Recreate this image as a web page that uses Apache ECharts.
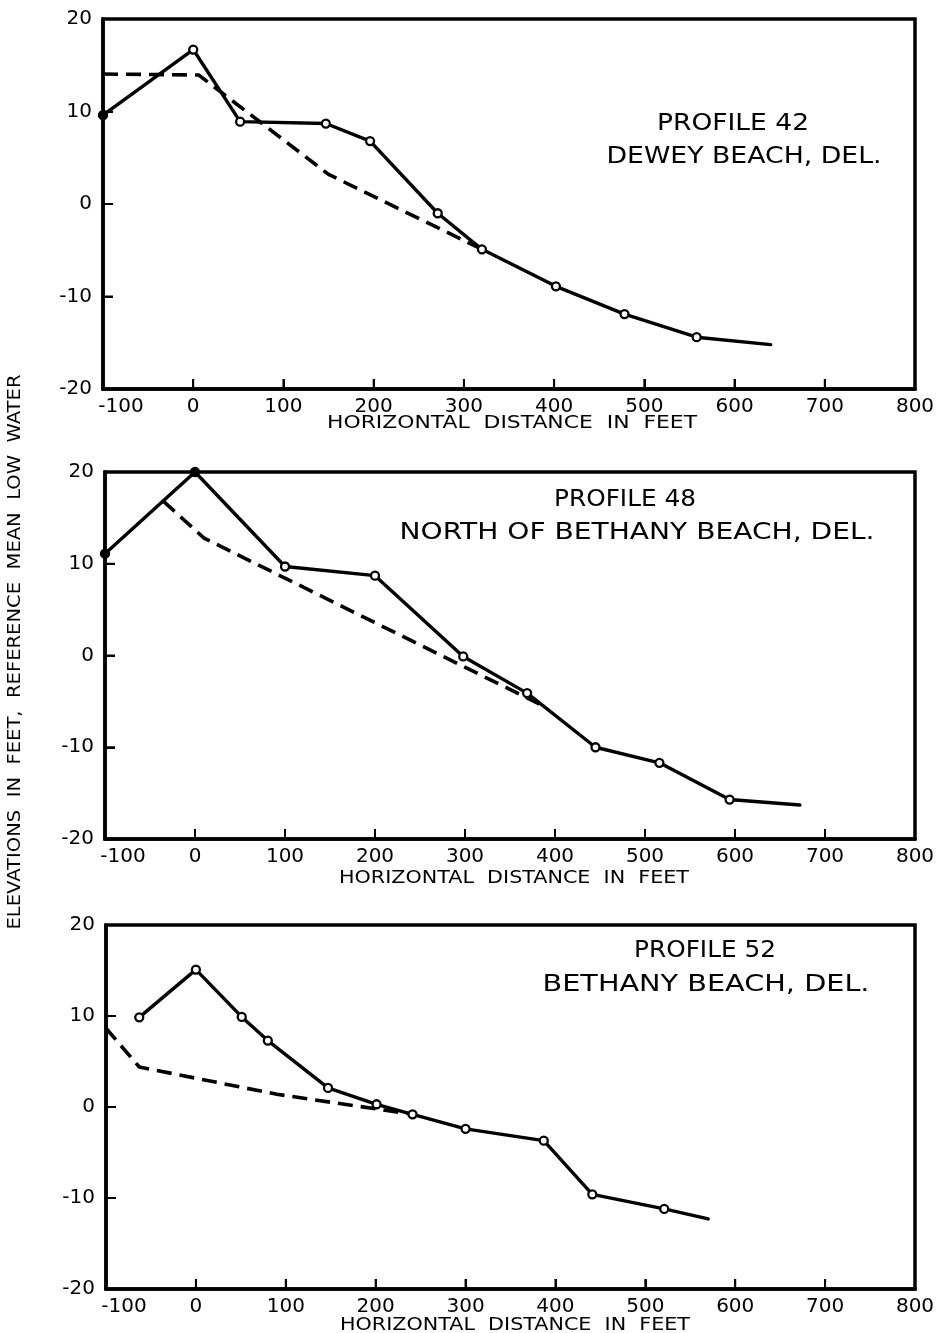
<!DOCTYPE html>
<html>
<head>
<meta charset="utf-8">
<script src="https://cdn.jsdelivr.net/npm/echarts@6/dist/echarts.min.js"></script>
<style>
  html, body { margin: 0; padding: 0; background: #fff; }
  #chart { width: 940px; height: 1333px; }
</style>
</head>
<body>
<div id="chart"></div>
<script>
// Beach profiles: elevation (ft, ref. mean low water) vs horizontal distance (ft)
const distTicks = [-100, 0, 100, 200, 300, 400, 500, 600, 700, 800];
const elevTicks = [-20, -10, 0, 10, 20];

// Profile 42 - Dewey Beach
const p42Dist = [-100, 0, 52, 147, 196, 271, 320, 402, 478, 558, 640];
const p42Elev = [9.6, 16.7, 8.9, 8.7, 6.8, -1.0, -4.9, -8.9, -11.9, -14.4, -15.2];
const p42DashDist = [-100, 6, 150, 320];
const p42DashElev = [14.05, 13.95, 3.2, -4.9];

// Profile 48 - North of Bethany Beach
const p48Dist = [-100, 0, 100, 200, 298, 369, 445, 516, 594, 672];
const p48Elev = [11.1, 20, 9.7, 8.7, -0.1, -4.1, -10.0, -11.7, -15.7, -16.3];
const p48DashDist = [-35, 10, 385];
const p48DashElev = [16.8, 12.8, -5.4];

// Profile 52 - Bethany Beach
const p52Dist = [-63, 0, 51, 80, 147, 201, 241, 300, 387, 441, 521, 570];
const p52Elev = [9.85, 15.1, 9.9, 7.3, 2.1, 0.3, -0.8, -2.4, -3.7, -9.6, -11.2, -12.3];
const p52DashDist = [-100, -63, 90, 241];
const p52DashElev = [8.65, 4.4, 1.4, -0.8];

const titleLines = [
  ['PROFILE 42', 'DEWEY BEACH, DEL.'],
  ['PROFILE 48', 'NORTH OF BETHANY BEACH, DEL.'],
  ['PROFILE 52', 'BETHANY BEACH, DEL.']
];
const xName = 'HORIZONTAL  DISTANCE  IN  FEET';
const yName = 'ELEVATIONS  IN  FEET,  REFERENCE  MEAN  LOW  WATER';

const FONT = '"DejaVu Sans", "Liberation Sans", sans-serif';
const INK = '#000';
const TICK_LEN = 10;

const measureCtx = document.createElement('canvas').getContext('2d');
function fitScale(text, size, width) {
  measureCtx.font = size + 'px ' + FONT;
  return width / measureCtx.measureText(text).width;
}
function label(text, x, y, size, width, rotation) {
  return {
    type: 'text', x: x, y: y, rotation: rotation || 0,
    scaleX: fitScale(text, size, width), z: 10,
    style: {
      text: text, fontSize: size, fontFamily: FONT, fill: INK,
      align: 'center', verticalAlign: 'middle',
      textAlign: 'center', textVerticalAlign: 'middle'
    }
  };
}

const grids = [
  { left: 103, top: 19, width: 812, height: 370 },
  { left: 105, top: 472, width: 810, height: 367 },
  { left: 106, top: 925, width: 809, height: 364 }
];

const panels = [
  { solid: [p42Dist, p42Elev], dash: [p42DashDist, p42DashElev], filled: [0] },
  { solid: [p48Dist, p48Elev], dash: [p48DashDist, p48DashElev], filled: [0, 1] },
  { solid: [p52Dist, p52Elev], dash: [p52DashDist, p52DashElev], filled: [] }
];

function pairs(xs, ys) { return xs.map((x, i) => [x, ys[i]]); }

const xMin = distTicks[0], xMax = distTicks[distTicks.length - 1];
const yMin = elevTicks[0], yMax = elevTicks[elevTicks.length - 1];

function frameLine() {
  return { show: true, onZero: false, lineStyle: { color: INK, width: 3.5 } };
}
function innerTicks() {
  return { show: true, inside: true, length: TICK_LEN, lineStyle: { color: INK, width: 2 } };
}

const xAxes = grids.map((g, i) => ({
  gridIndex: i, type: 'value',
  min: xMin, max: xMax, interval: 100,
  axisLine: frameLine(),
  axisTick: innerTicks(),
  splitLine: { show: false },
  axisLabel: {
    color: INK, fontSize: 20, fontFamily: FONT, margin: 8,
    showMinLabel: true, showMaxLabel: true,
    // the leftmost label sits just inside the frame corner
    formatter: v => (v === xMin ? '{first|' + v + '}' : String(v)),
    rich: { first: { padding: [0, 0, 0, 36], fontSize: 20, fontFamily: FONT, color: INK } }
  }
}));
const yAxes = grids.map((g, i) => ({
  gridIndex: i, type: 'value',
  min: yMin, max: yMax, interval: 10,
  axisLine: frameLine(),
  axisTick: innerTicks(),
  splitLine: { show: false },
  axisLabel: { color: INK, fontSize: 20, fontFamily: FONT, margin: 11,
               showMinLabel: true, showMaxLabel: true }
}));

const series = [];
panels.forEach((p, i) => {
  series.push({
    type: 'line', xAxisIndex: i, yAxisIndex: i, z: 2,
    data: pairs(p.dash[0], p.dash[1]),
    symbol: 'none', silent: true,
    lineStyle: { color: INK, width: 3.6, type: [15, 8], cap: 'butt' }
  });
  const pts = pairs(p.solid[0], p.solid[1]).map((v, k, arr) => {
    if (k === arr.length - 1) return { value: v, symbol: 'none' };
    if (p.filled.indexOf(k) >= 0) return { value: v, itemStyle: { color: INK } };
    return v;
  });
  series.push({
    type: 'line', xAxisIndex: i, yAxisIndex: i, z: 3,
    data: pts, symbol: 'circle', symbolSize: 8, showAllSymbol: true,
    itemStyle: { color: '#fff', borderColor: INK, borderWidth: 2.3 },
    lineStyle: { color: INK, width: 3.4, cap: 'round', join: 'round' }
  });
});

const graphics = [
  label(titleLines[0][0], 733, 124, 23, 152),
  label(titleLines[0][1], 744, 157, 23, 275),
  label(titleLines[1][0], 625, 500, 23, 142),
  label(titleLines[1][1], 637, 533, 23, 475),
  label(titleLines[2][0], 705, 951, 23, 142),
  label(titleLines[2][1], 706, 985, 23, 327),
  label(xName, 512, 423, 18, 370),
  label(xName, 514, 878, 18, 350),
  label(xName, 515, 1325, 18, 350),
  label(yName, 16, 652, 17, 555, Math.PI / 2)
];

const chart = echarts.init(document.getElementById('chart'), null, { renderer: 'canvas' });
chart.setOption({
  animation: false,
  backgroundColor: '#fff',
  grid: grids.map(g => Object.assign({ show: true, borderColor: INK, borderWidth: 3.5,
                                       backgroundColor: 'transparent' }, g)),
  xAxis: xAxes,
  yAxis: yAxes,
  series: series,
  graphic: graphics
});

// inward tick marks drawn once more on top, placed through each grid's scales
try {
  const ticks = [];
  grids.forEach((g, i) => {
    distTicks.slice(1, -1).forEach(v => {
      const p = chart.convertToPixel({ xAxisIndex: i, yAxisIndex: i }, [v, yMin]);
      if (p && isFinite(p[0])) ticks.push({ type: 'line', z: 11, silent: true,
        shape: { x1: p[0], y1: p[1], x2: p[0], y2: p[1] - TICK_LEN },
        style: { stroke: INK, lineWidth: 2 } });
    });
    elevTicks.slice(1, -1).forEach(v => {
      const p = chart.convertToPixel({ xAxisIndex: i, yAxisIndex: i }, [xMin, v]);
      if (p && isFinite(p[0])) ticks.push({ type: 'line', z: 11, silent: true,
        shape: { x1: p[0], y1: p[1], x2: p[0] + TICK_LEN, y2: p[1] },
        style: { stroke: INK, lineWidth: 2 } });
    });
  });
  if (ticks.length) chart.setOption({ graphic: graphics.concat(ticks) });
} catch (e) { /* axis ticks above already cover this */ }
</script>
</body>
</html>
